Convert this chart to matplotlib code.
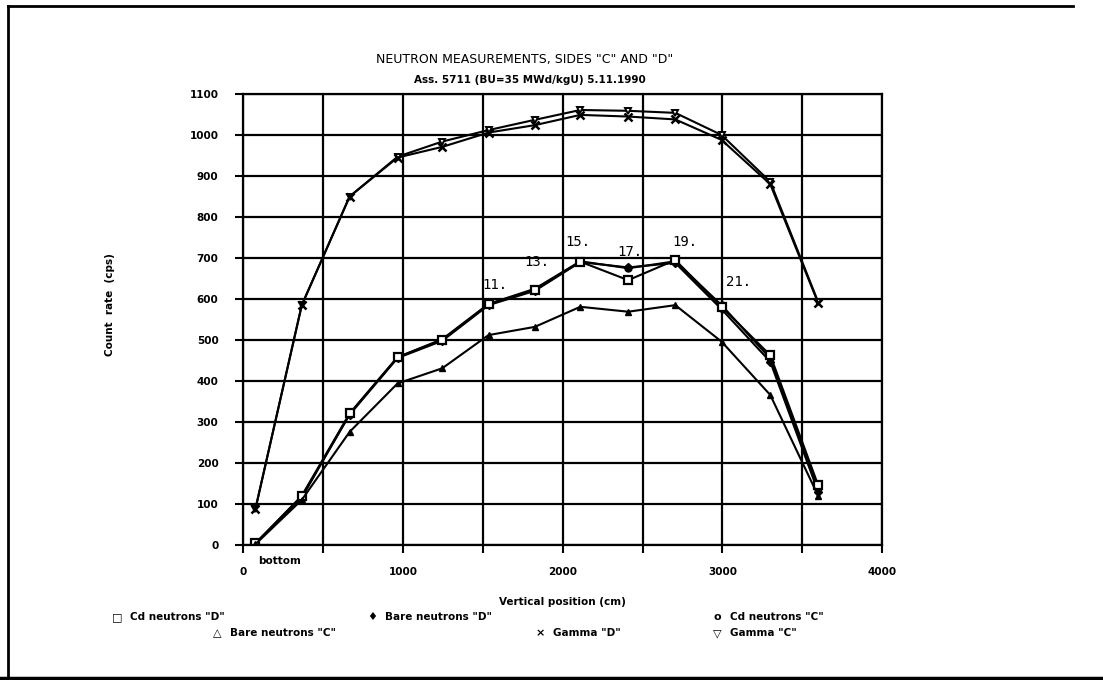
import matplotlib.pyplot as plt
from matplotlib.lines import Line2D

# posiciones de medida (cm) y tasas de conteo (cps)
posicion = [75, 365, 665, 965, 1245, 1535, 1825, 2110, 2410, 2705, 2995, 3300, 3600]
cd_d = [4, 120, 321, 458, 500, 587, 622, 691, 646, 695, 581, 463, 146]
bare_d = [4, 118, 318, 456, 498, 585, 620, 690, 677, 688, 575, 447, 130]
cd_c = [4, 115, 320, 458, 502, 588, 625, 692, 675, 692, 585, 455, 140]
bare_c = [2, 110, 276, 394, 431, 512, 532, 581, 569, 585, 496, 366, 120]
gamma_d = [88, 585, 850, 945, 971, 1006, 1024, 1049, 1045, 1038, 988, 880, 590]
gamma_c = [89, 585, 850, 947, 984, 1012, 1037, 1061, 1059, 1054, 1000, 886, 593]

# numeros de las posiciones marcadas
etiquetas = ['11.', '13.', '15.', '17.', '19.', '21.']
etiq_x = [1577, 1838, 2097, 2423, 2768, 3100]
etiq_y = [634, 691, 740, 715, 740, 642]

W, H = 1103, 680
fig = plt.figure(figsize=(W / 100, H / 100), dpi=100)
ax = fig.add_axes([243.5 / W, (H - 545) / H, (882 - 243.5) / W, (545 - 94) / H])

k = dict(color='k', lw=1.5)
ax.plot(posicion, gamma_c, marker='v', ms=5, mfc='white', mec='k', mew=1.4, **k)
ax.plot(posicion, gamma_d, marker='x', ms=6, mew=1.8, **k)
ax.plot(posicion, bare_d, marker='D', ms=4.5, mfc='k', **k)
ax.plot(posicion, cd_c, marker='o', ms=5, mfc='k', **k)
ax.plot(posicion, cd_d, marker='s', ms=6, mfc='white', mec='k', mew=1.6, **k)
ax.plot(posicion, bare_c, marker='^', ms=5, mfc='k', **k)

for t, x, y in zip(etiquetas, etiq_x, etiq_y):
    ax.text(x, y, t, ha='center', va='center', fontsize=10, family='DejaVu Sans Mono')

ax.set_xlim(0, 4000)
ax.set_ylim(0, 1100)
ax.set_xticks(range(0, 4001, 500))
ax.set_xticklabels(['0', '', '1000', '', '2000', '', '3000', '', '4000'])
ax.set_yticks(range(0, 1101, 100))
ax.grid(True, color='k', lw=1.6)
for s in ax.spines.values():
    s.set_linewidth(1.6)
ax.tick_params(direction='out', length=6, width=1.5, labelsize=7.5, colors='k')
ax.tick_params(axis='y', pad=12)
ax.tick_params(axis='x', pad=10)
for lab in ax.get_xticklabels() + ax.get_yticklabels():
    lab.set_fontweight('bold')

ax.text(90, -40, 'bottom', ha='left', va='center', fontsize=7.5, fontweight='bold')

fig.text(525 / W, 1 - 59 / H, 'NEUTRON MEASUREMENTS, SIDES "C" AND "D"',
         ha='center', va='center', fontsize=9)
fig.text(530 / W, 1 - 80 / H, 'Ass. 5711 (BU=35 MWd/kgU) 5.11.1990',
         ha='center', va='center', fontsize=7.5, fontweight='bold')
fig.text(110 / W, 1 - 305 / H, 'Count  rate  (cps)', rotation=90,
         ha='center', va='center', fontsize=7.5, fontweight='bold')
fig.text(562 / W, 1 - 602 / H, 'Vertical position (cm)',
         ha='center', va='center', fontsize=7.5, fontweight='bold')

# leyenda en dos filas
ley = [('□', 'Cd neutrons "D"', 117, 617),
       ('♦', 'Bare neutrons "D"', 372, 617),
       ('o', 'Cd neutrons "C"', 717, 617),
       ('△', 'Bare neutrons "C"', 217, 633),
       ('×', 'Gamma "D"', 540, 633),
       ('▽', 'Gamma "C"', 717, 633)]
for m, t, x, y in ley:
    fig.text(x / W, 1 - y / H, m, ha='center', va='center', fontsize=8, fontweight='bold')
    fig.text((x + 13) / W, 1 - y / H, t, ha='left', va='center', fontsize=7.5, fontweight='bold')

# marco: izquierda, arriba y linea inferior a todo lo ancho
fig.add_artist(Line2D([8 / W, 8 / W], [2 / H, 1 - 6 / H], color='k', lw=2))
fig.add_artist(Line2D([8 / W, 1073 / W], [1 - 6 / H, 1 - 6 / H], color='k', lw=2))
fig.add_artist(Line2D([0, 1], [2 / H, 2 / H], color='k', lw=2.5))

fig.savefig('out.png', dpi=100)
